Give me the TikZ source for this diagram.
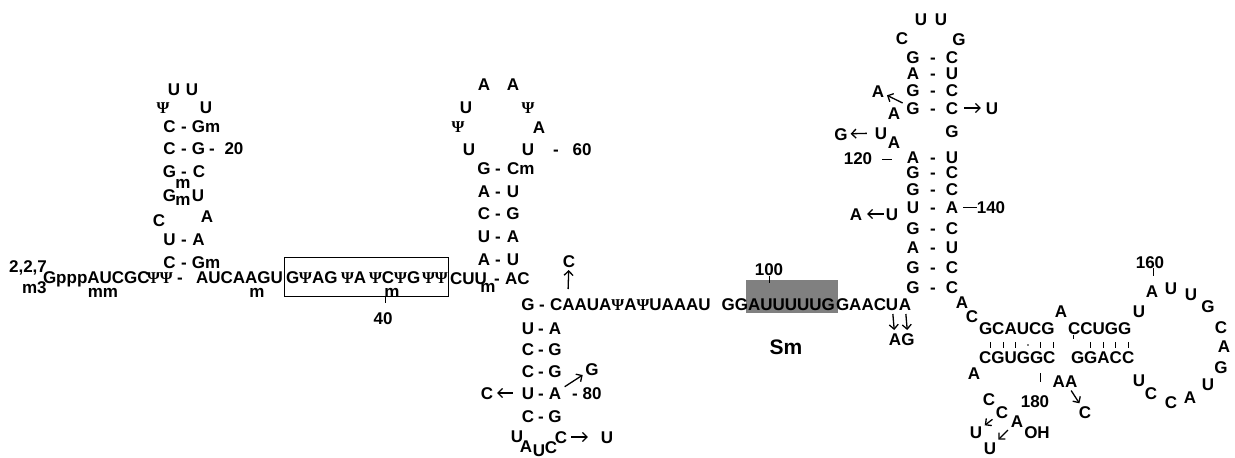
\documentclass[tikz,border=0pt]{standalone}
\usepackage{fontspec}
\setmainfont{Liberation Sans}
\newfontfamily\psifont{Liberation Serif}
\newcommand{\PS}{{\psifont\bfseries\fontsize{16.5}{16.5}\selectfont Ψ}}
\usetikzlibrary{arrows.meta}
\definecolor{smgray}{RGB}{128,128,128}
\newcommand{\bpair}[7]{\node[t] (#1L) at (#2,#5) {#6};\node[t] (#1D) at (#3,#5) {-};\node[t] (#1R) at (#4,#5) {#7};}
\begin{document}
\begin{tikzpicture}[x=1pt,y=-1pt,
  t/.style={font=\fontsize{17}{17}\selectfont\bfseries, inner sep=0pt, outer sep=1pt, text height=12pt, text depth=0pt},
  tm/.style={font=\fontsize{17}{17}\selectfont\bfseries, inner sep=0pt, outer sep=0pt, text height=8pt, text depth=0pt},
  ts/.style={font=\fontsize{21}{21}\selectfont\bfseries, inner sep=0pt, text height=15pt, text depth=0pt},
  arr/.style={-{Straight Barb[length=4.5pt,width=9pt,line width=1.3pt]}, line width=1.3pt, shorten <=3pt, shorten >=2pt},
  tk/.style={line width=0.8pt}]
\useasboundingbox (0,0) rectangle (1235,458);
% ---------- stem 1
\node[t] (a1) at (174,89) {U};
\node[t] (a2) at (192,89) {U};
\node[t] (a3) at (163,107) {\PS};
\node[t] (a4) at (206,107) {U};
\bpair{p1}{169.5}{184}{206}{126}{C}{Gm}
\bpair{p2}{169.5}{184}{198.5}{148}{C}{G}
\node[t] (p2x) at (212,148) {-};
\node[t] (n20) at (234,148) {20};
\bpair{p3}{169.5}{184}{199}{171}{G}{C}
\node[t] (p4L) at (169.5,195) {G};
\node[t] (p4R) at (198,195) {U};
\node[tm] (m1) at (183,184) {m};
\node[tm] (m2) at (183,201) {m};
\node[t] (a5) at (159,220) {C};
\node[t] (a6) at (207,216) {A};
\bpair{p5}{169.5}{184}{198.5}{239}{U}{A}
\bpair{p6}{169.5}{184}{206}{262}{C}{Gm}
% ---------- 5' line
\node[t] (c227) at (28,266) {2,2,7};
\node[t, anchor=base west] (cm3) at (21,293) {m3};
\node[t, anchor=west] (l1) at (42,277) {GpppAUCGC};
\node[t, anchor=west] (l2) at (146,277) {\PS\PS};
\node[t] (l3) at (180,277) {-};
\node[t, anchor=west] (l4) at (195,277) {AUCAAGU};
\node[tm] (m3) at (103,293) {mm};
\node[tm] (m4) at (257,293) {m};
\node[draw, line width=0.8pt, minimum width=164pt, minimum height=39pt, inner sep=0pt] (bx) at (366,276.5) {};
\node[t, anchor=west] (b1) at (285,277) {G\PS AG};
\node[t, anchor=west] (b2) at (340,277) {\PS A};
\node[t, anchor=west] (b3) at (368,277) {\PS C\PS G};
\node[t, anchor=west] (b4) at (421,277) {\PS\PS};
\node[tm] (m5) at (392,293) {m};
\draw[tk] (385,297) -- (385,303);
\node[t] (n40) at (383,318) {40};
\node[t, anchor=west] (l5) at (449,278) {CUU};
\node[tm] (m6) at (488,288) {m};
\node[t] (l6) at (497,278) {-};
\node[t, anchor=west] (l7) at (504,278) {AC};
% ---------- stem 2
\node[t] (b5) at (484,84) {A};
\node[t] (b6) at (513,84) {A};
\node[t] (b7) at (466,107) {U};
\node[t] (b8) at (528,107) {\PS};
\node[t] (b9) at (458,126) {\PS};
\node[t] (b10) at (539,127) {A};
\node[t] (b11) at (469,149) {U};
\node[t] (b12) at (528,149) {U};
\node[t] (b13) at (556,149) {-};
\node[t] (n60) at (582,149) {60};
\bpair{q1}{484}{498}{520.7}{168}{G}{Cm}
\bpair{q2}{484}{498}{513}{191}{A}{U}
\bpair{q3}{484}{498}{513}{213}{C}{G}
\bpair{q4}{484}{498}{513}{236}{U}{A}
\bpair{q5}{484}{498}{513}{259}{A}{U}
\node[t] (cup) at (569,261) {C};
% ---------- stem 3 and Sm line
\node[fill=smgray, minimum width=92pt, minimum height=33pt, inner sep=0pt] (smbox) at (792,296.5) {};
\node[t] (r0L) at (528,304) {G};
\node[t] (r0D) at (542,304) {-};
\node[t, anchor=west] (l8) at (549,304) {CAAUA\PS A\PS UAAAU};
\node[t, anchor=east] (l8b) at (749,304) {GG};
\coordinate (upA) at (568,292);
\node[t, anchor=west] (l9) at (747,304) {AUUUUUG};
\node[t, anchor=west] (l10) at (835,304) {GAAC};
\node[t] (l11) at (892,304) {U};
\node[t] (l12) at (905,304) {A};
\node[t] (ag1) at (895,339) {A};
\node[t] (ag2) at (908,339) {G};
\node[ts] (sm) at (786,347) {Sm};
\node[t] (n100) at (769,269) {100};
\draw[tk] (769,276) -- (769,283);
\bpair{r1}{528}{541}{555}{328}{U}{A}
\bpair{r2}{528}{541}{555}{349}{C}{G}
\bpair{r3}{528}{541}{555}{371}{C}{G}
\node[t] (g80) at (592,369) {G};
\bpair{r4}{528}{541}{555}{393}{U}{A}
\node[t] (r4x) at (575,393) {-};
\node[t] (n80) at (592,393) {80};
\node[t] (c80) at (487,393) {C};
\bpair{r5}{528}{541}{555}{416}{C}{G}
\node[t] (o1) at (517,436) {U};
\node[t] (o2) at (526,446) {A};
\node[t] (o3) at (539,450) {U};
\node[t] (o4) at (551,447) {C};
\node[t] (o5) at (561,437) {C};
\node[t] (o6) at (607,437) {U};
% ---------- right stem
\node[t] (s1) at (921,19) {U};
\node[t] (s2) at (941,19) {U};
\node[t] (s3) at (902,38) {C};
\node[t] (s4) at (959,39) {G};
\bpair{h1}{913}{933}{952}{57}{G}{C}
\bpair{h2}{913}{933}{952}{73}{A}{U}
\bpair{h3}{913}{933}{952}{90}{G}{C}
\bpair{h4}{913}{933}{952}{108}{G}{C}
\node[t] (h5R) at (952,131) {G};
\bpair{h6}{913}{933}{952}{157}{A}{U}
\bpair{h7}{913}{933}{952}{172}{G}{C}
\bpair{h8}{913}{933}{952}{189}{G}{C}
\bpair{h9}{913}{933}{952}{207}{U}{A}
\bpair{h10}{913}{933}{952}{228}{G}{C}
\bpair{h11}{913}{933}{952}{247}{A}{U}
\bpair{h12}{913}{933}{952}{267}{G}{C}
\bpair{h13}{913}{933}{952}{287}{G}{C}
\node[t] (sa1) at (878,91) {A};
\node[t] (sa2) at (894,113) {A};
\node[t] (su1) at (992,108) {U};
\node[t] (sg1) at (841,134) {G};
\node[t] (su2) at (881,133) {U};
\node[t] (sa3) at (894,142) {A};
\node[t] (n120) at (858,158) {120};
\draw[tk] (882,159) -- (892,159);
\draw[tk] (963,207) -- (977,207);
\node[t] (n140) at (991,207) {140};
\node[t] (sa4) at (856,214) {A};
\node[t] (su3) at (892,214) {U};
% ---------- 3' domain
\node[t] (k1) at (962,302) {A};
\node[t] (k2) at (972,316) {C};
\node[t, anchor=west] (k3) at (978,328) {GCAUCG};
\node[t] (k4) at (1061,311) {A};
\node[t, anchor=west] (k5) at (1067,328) {CCUGG};
\foreach \xx in {990,1003,1015,1040,1053,1090,1103,1115,1128}{\draw[tk] (\xx,342) -- (\xx,348);}
\fill (1028,345) circle (0.9pt);
\draw[tk] (1073,335) -- (1073,339);
\node[t, anchor=west] (k6) at (978,357) {CGUGGC};
\node[t, anchor=west] (k7) at (1070,357) {GGACC};
\node[t] (k8) at (974,373) {A};
\draw[tk] (1040,373) -- (1040,382);
\node[t] (n180) at (1035,401) {180};
\node[t] (k9) at (1065,381) {AA};
\node[t] (k10) at (1085,412) {C};
\node[t] (k11) at (989,399) {C};
\node[t] (k12) at (1002,412) {C};
\node[t] (k13) at (1017,421) {A};
\node[t] (k14) at (1037,432) {OH};
\node[t] (k15) at (976,432) {U};
\node[t] (k16) at (990,448) {U};
\node[t] (k17) at (1139,311) {U};
\node[t] (k18) at (1152,291) {A};
\node[t] (n160) at (1150,262) {160};
\draw[tk] (1153,268) -- (1153,276);
\node[t] (k19) at (1171,288) {U};
\node[t] (k20) at (1191,294) {U};
\node[t] (k21) at (1208,306) {G};
\node[t] (k22) at (1221,327) {C};
\node[t] (k23) at (1224,346) {A};
\node[t] (k24) at (1221,367) {G};
\node[t] (k25) at (1208,384) {U};
\node[t] (k26) at (1190,397) {A};
\node[t] (k27) at (1171,402) {C};
\node[t] (k28) at (1151,393) {C};
\node[t] (k29) at (1139,380) {U};
% ---------- arrows
\draw[arr] (upA) -- (cup);
\draw[arr] (r4R) -- (g80);
\draw[arr, shorten <=8pt, shorten >=3pt] (r4L) -- (c80);
\draw[arr, shorten >=12pt] (o5) -- (o6);
\draw[arr] (l11) -- (ag1);
\draw[arr] (l12) -- (ag2);
\draw[arr] (h4L) -- (sa1);
\draw[arr, shorten <=5pt, shorten >=4pt] (h4R) -- (su1);
\draw[arr, shorten <=7pt, shorten >=2pt] (su2) -- (sg1);
\draw[arr, shorten <=1pt, shorten >=4pt] (su3) -- (sa4);
\draw[arr] (k9) -- (k10);
\draw[arr] (k12) -- (k15);
\draw[arr] (k13) -- (k16);
\end{tikzpicture}
\end{document}
